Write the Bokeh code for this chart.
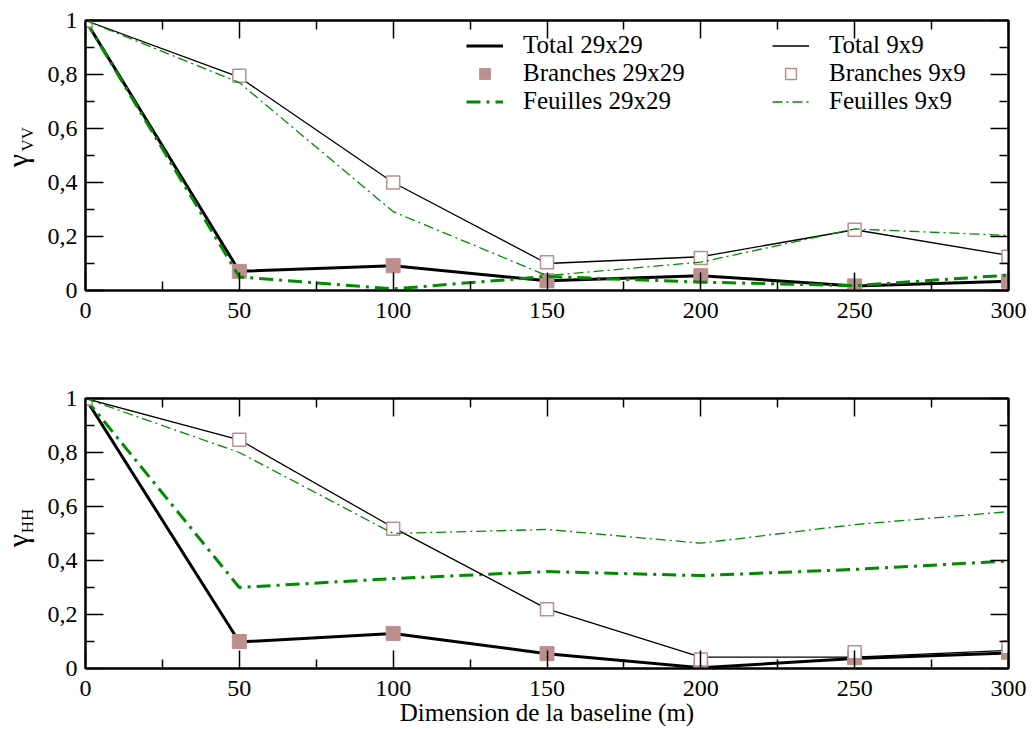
import math
from bokeh.plotting import figure
from bokeh.models import Range1d, FixedTicker, LinearAxis, Legend, LegendItem, Label
from bokeh.layouts import column, row
from bokeh.embed import file_html
from bokeh.resources import INLINE

# ---------------- data ----------------
baseline = [0, 50, 100, 150, 200, 250, 300]

vv_total_29 = [1.0, 0.071, 0.092, 0.036, 0.055, 0.017, 0.034]
vv_branches_29 = [1.0, 0.071, 0.092, 0.036, 0.055, 0.017, 0.034]
vv_feuilles_29 = [1.0, 0.050, 0.006, 0.052, 0.031, 0.018, 0.057]
vv_total_9 = [1.0, 0.790, 0.400, 0.100, 0.125, 0.225, 0.130]
vv_branches_9 = [1.0, 0.795, 0.400, 0.105, 0.120, 0.225, 0.125]
vv_feuilles_9 = [1.0, 0.770, 0.292, 0.055, 0.105, 0.228, 0.204]

hh_total_29 = [1.0, 0.098, 0.130, 0.055, 0.003, 0.037, 0.057]
hh_branches_29 = [1.0, 0.100, 0.130, 0.055, 0.003, 0.040, 0.060]
hh_feuilles_29 = [1.0, 0.300, 0.333, 0.359, 0.344, 0.367, 0.398]
hh_total_9 = [1.0, 0.847, 0.522, 0.221, 0.042, 0.042, 0.067]
hh_branches_9 = [1.0, 0.847, 0.518, 0.219, 0.033, 0.060, 0.079]
hh_feuilles_9 = [1.0, 0.800, 0.500, 0.515, 0.464, 0.533, 0.581]

x_ticks = [0, 50, 100, 150, 200, 250, 300]
x_minor_ticks = [25, 75, 125, 175, 225, 275]
y_ticks = [0, 0.2, 0.4, 0.6, 0.8, 1]
y_tick_labels = ["0", "0,2", "0,4", "0,6", "0,8", "1"]
y_minor_ticks = [0.1, 0.3, 0.5, 0.7, 0.9]

legend_labels_left = ["Total 29x29", "Branches 29x29", "Feuilles 29x29"]
legend_labels_right = ["Total 9x9", "Branches 9x9", "Feuilles 9x9"]
x_title = "Dimension de la baseline (m)"

FONT = "Liberation Serif"
GREEN = "#008b00"
ROSY = "#bc8f8f"


def style_axis(ax, ticks, minor, labels):
    ax.ticker = FixedTicker(ticks=ticks, minor_ticks=minor)
    ax.major_tick_in = 18
    ax.major_tick_out = 0
    ax.minor_tick_in = 9
    ax.minor_tick_out = 0
    ax.axis_line_color = "black"
    ax.axis_line_width = 2
    ax.major_tick_line_color = "black"
    ax.major_tick_line_width = 1.5
    ax.minor_tick_line_color = "black"
    ax.minor_tick_line_width = 1.5
    ax.major_label_text_font = FONT
    ax.major_label_text_color = "black"
    if labels is None:
        ax.major_label_overrides = {t: "" for t in ticks}
        ax.major_label_text_font_size = "0px"
        ax.major_label_standoff = 0
    else:
        ax.major_label_overrides = {t: l for t, l in zip(ticks, labels)}
        ax.major_label_text_font_size = "24px"


def make_label_fig(border_top, border_bottom, main_y, sub_y, sub_text):
    lf = figure(frame_width=40, frame_height=270,
                x_range=Range1d(0, 40), y_range=Range1d(0, 1),
                x_axis_location=None, y_axis_location=None,
                output_backend="svg", toolbar_location=None,
                min_border_left=0, min_border_right=0,
                min_border_top=border_top, min_border_bottom=border_bottom)
    lf.xgrid.visible = False
    lf.ygrid.visible = False
    lf.outline_line_color = None
    lf.background_fill_color = "white"
    lf.border_fill_color = "white"
    lf.add_layout(Label(x=17, y=main_y, text="γ", angle=math.pi / 2,
                        text_align="center", text_baseline="middle",
                        text_font=FONT, text_font_size="30px", text_color="black"))
    lf.add_layout(Label(x=27, y=sub_y, text=sub_text, angle=math.pi / 2,
                        text_align="center", text_baseline="middle",
                        text_font=FONT, text_font_size="17px", text_color="black"))
    return lf


def make_panel(series, border_top, border_bottom, with_legend, with_title):
    t29, b29, f29, t9, b9, f9 = series
    p = figure(frame_width=923, frame_height=270,
               x_range=Range1d(0, 300), y_range=Range1d(0, 1),
               output_backend="svg", toolbar_location=None,
               min_border_left=45, min_border_right=20,
               min_border_top=border_top, min_border_bottom=border_bottom)
    p.xgrid.visible = False
    p.ygrid.visible = False
    p.outline_line_color = "black"
    p.outline_line_width = 2
    p.background_fill_color = "white"
    p.border_fill_color = "white"

    style_axis(p.xaxis[0], x_ticks, x_minor_ticks, [str(t) for t in x_ticks])
    p.xaxis[0].major_label_standoff = 12
    style_axis(p.yaxis[0], y_ticks, y_minor_ticks, y_tick_labels)
    p.yaxis[0].major_label_standoff = 8

    if with_title:
        p.xaxis[0].axis_label = x_title
        p.xaxis[0].axis_label_text_font = FONT
        p.xaxis[0].axis_label_text_font_size = "25px"
        p.xaxis[0].axis_label_text_font_style = "normal"
        p.xaxis[0].axis_label_text_color = "black"
        p.xaxis[0].axis_label_standoff = 0

    top_ax = LinearAxis()
    style_axis(top_ax, x_ticks, x_minor_ticks, None)
    p.add_layout(top_ax, "above")
    right_ax = LinearAxis()
    style_axis(right_ax, y_ticks, y_minor_ticks, None)
    p.add_layout(right_ax, "right")

    r1 = p.line(baseline, t29, line_color="black", line_width=3)
    r2 = p.scatter(baseline, b29, marker="square", size=14,
                   fill_color=ROSY, line_color=ROSY, line_width=1)
    r3 = p.line(baseline, f29, line_color=GREEN, line_width=3, line_dash="14 6 3 6")
    r4 = p.line(baseline, t9, line_color="black", line_width=1.3)
    r5 = p.scatter(baseline, b9, marker="square", size=13,
                   fill_color="white", line_color=ROSY, line_width=1.5)
    r6 = p.line(baseline, f9, line_color=GREEN, line_width=1.3, line_dash="10 4 2 4")

    if with_legend:
        for labels, rends, xloc in ((legend_labels_left, (r1, r2, r3), 381),
                                    (legend_labels_right, (r4, r5, r6), 687)):
            leg = Legend(items=[LegendItem(label=l, renderers=[r]) for l, r in zip(labels, rends)],
                         location=(xloc, 175))
            leg.label_text_font = FONT
            leg.label_text_font_size = "25px"
            leg.label_text_color = "black"
            leg.glyph_width = 37
            leg.glyph_height = 27
            leg.label_height = 27
            leg.label_standoff = 20
            leg.spacing = 0
            leg.padding = 0
            leg.margin = 0
            leg.border_line_color = None
            leg.background_fill_alpha = 0
            p.add_layout(leg, "center")
    return p


top_main = make_panel((vv_total_29, vv_branches_29, vv_feuilles_29, vv_total_9, vv_branches_9, vv_feuilles_9),
                      20, 50, True, False)
top_lab = make_label_fig(20, 50, 0.481, 0.56, "VV")
bot_main = make_panel((hh_total_29, hh_branches_29, hh_feuilles_29, hh_total_9, hh_branches_9, hh_feuilles_9),
                      58, 58, False, True)
bot_lab = make_label_fig(58, 58, 0.474, 0.546, "HH")

layout = column(row(top_lab, top_main, spacing=0), row(bot_lab, bot_main, spacing=0), spacing=0)

with open("out.html", "w") as f:
    f.write(file_html(layout, INLINE))
